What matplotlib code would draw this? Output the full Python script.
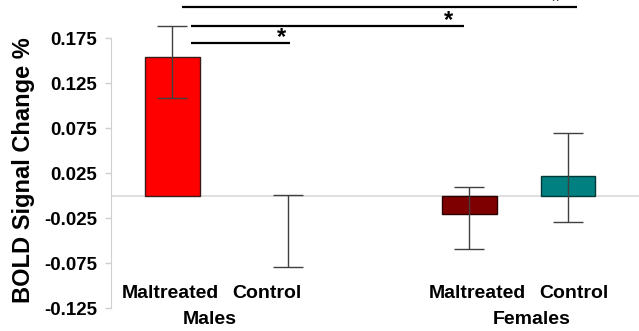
import matplotlib
matplotlib.use("Agg")
import matplotlib.pyplot as plt

plt.rcParams['font.family'] = ['Liberation Sans', 'DejaVu Sans']

# Mean BOLD signal change per group, with asymmetric error bars
groups = ["Maltreated", "Control", "Maltreated", "Control"]
sexes = ["Males", "Females"]
means = [0.154, -0.040, -0.020, 0.022]
err_low = [0.045, 0.039, 0.039, 0.051]
err_high = [0.035, 0.041, 0.030, 0.048]
colors = ["#ff0000", "none", "#7f0000", "#008080"]
edges = ["#3a1a1a", "none", "#2a0000", "#003838"]
yticks = [-0.125, -0.075, -0.025, 0.025, 0.075, 0.125, 0.175]
ytick_labels = ["-0.125", "-0.075", "-0.025", "0.025", "0.075", "0.125", "0.175"]

# layout (slot positions along the x axis)
x_pos = [0.53, 1.53, 3.09, 3.94]
label_pos = [0.51, 1.34, 3.16, 3.99]
sex_pos = [0.85, 3.63]
# significance brackets: (x start, x end, y level, star x)
brackets = [(0.61, 4.02, 0.210, 3.83),
            (0.69, 3.04, 0.189, 2.91),
            (0.69, 1.54, 0.170, 1.47)]

fig = plt.figure(figsize=(6.39, 3.31), dpi=100)
ax = fig.add_axes([111 / 639, 22.7 / 331, 528 / 639, 308.3 / 331])
ax.set_xlim(0, 528 / 116)
ax.set_ylim(-0.125, 0.2176)

ax.axhline(0, color="#d9d9d9", lw=1.2, zorder=1)
ax.bar(x_pos, means, width=0.47, color=colors, edgecolor=edges,
       linewidth=1.0, zorder=2)
ax.errorbar(x_pos, means, yerr=[err_low, err_high], fmt="none",
            ecolor="#404040", elinewidth=1.0, capsize=11, capthick=1.0,
            zorder=3)

for x0, x1, y, xs in brackets:
    ax.plot([x0, x1], [y, y], color="black", lw=1.6, solid_capstyle="butt",
            clip_on=False, zorder=4)
    ax.text(xs, y - 0.0015, "*", ha="center", va="baseline", fontsize=17,
            fontweight="bold", clip_on=False)

for x, g in zip(label_pos, groups):
    ax.text(x, -0.108, g, ha="center", va="center", fontsize=14,
            fontweight="bold", clip_on=False)
for x, s in zip(sex_pos, sexes):
    ax.text(x, -0.138, s, ha="center", va="center", fontsize=14,
            fontweight="bold", clip_on=False)

for side in ["top", "right", "bottom"]:
    ax.spines[side].set_visible(False)
ax.spines["left"].set_color("#d0d0d0")
ax.spines["left"].set_bounds(-0.125, 0.175)
ax.set_xticks([])
ax.set_yticks(yticks)
ax.set_yticklabels(ytick_labels, fontsize=13.5, fontweight="bold")
ax.tick_params(axis="y", colors="#d0d0d0", length=4, width=1, pad=6,
               labelcolor="black")

fig.text(24 / 639, 0.485, "BOLD Signal Change %", rotation=90, ha="center",
         va="center", fontsize=17, fontweight="bold")

fig.savefig("out.png", dpi=100)
